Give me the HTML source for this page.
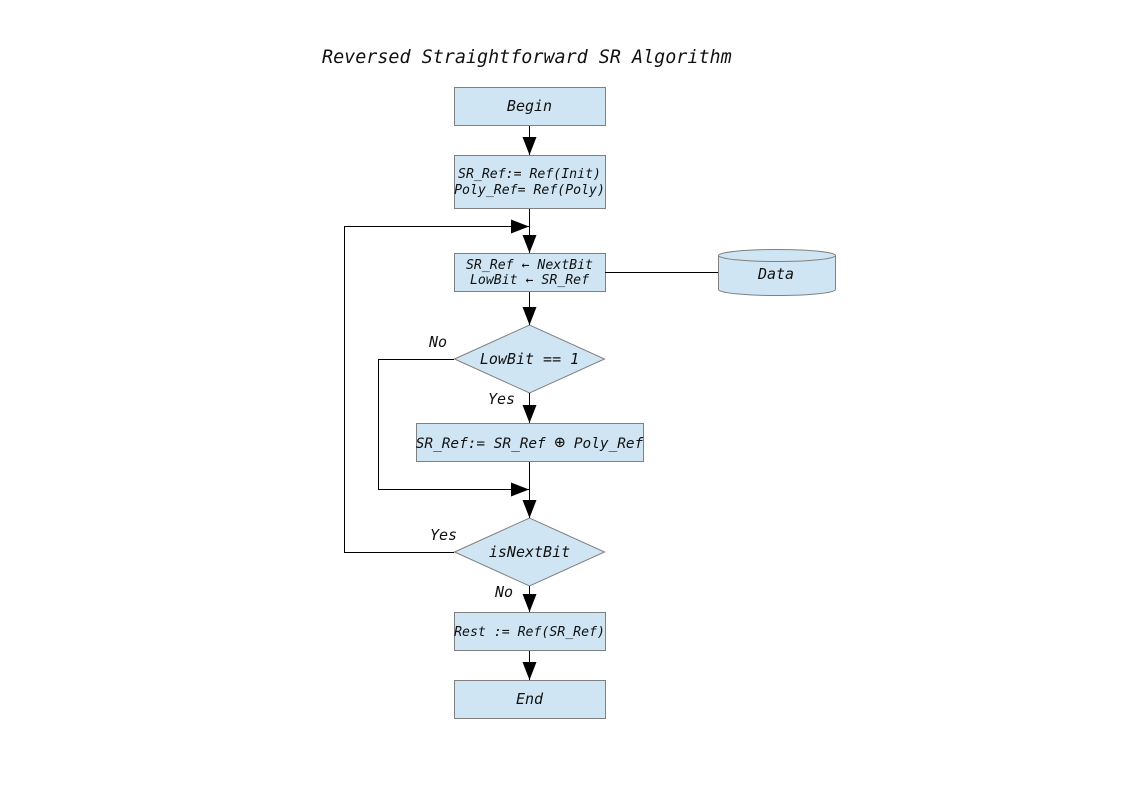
<!DOCTYPE html>
<html><head><style>body{margin:0;background:#fff}svg{display:block}text{font-family:"DejaVu Sans Mono","Liberation Mono",monospace;font-style:italic;fill:#111}</style></head><body>
<svg width="1123" height="794" viewBox="0 0 1123 794" xmlns="http://www.w3.org/2000/svg">
<defs><marker id="a" markerWidth="18" markerHeight="14" refX="18" refY="7" orient="auto" markerUnits="userSpaceOnUse"><path d="M0,0L18,7L0,14z" fill="#000"/></marker></defs>
<text x="322" y="63" font-size="18.4">Reversed Straightforward SR Algorithm</text>
<g fill="#cfe5f3" stroke="#808080" stroke-width="1">
<rect x="454.5" y="87.5" width="151" height="38"/>
<rect x="454.5" y="155.5" width="151" height="53"/>
<rect x="454.5" y="253.5" width="151" height="38"/>
<polygon points="454.5,359 529.5,325 604.5,359 529.5,393"/>
<rect x="416.5" y="423.5" width="227" height="38"/>
<polygon points="454.5,552 529.5,518 604.5,552 529.5,586"/>
<rect x="454.5" y="612.5" width="151" height="38"/>
<rect x="454.5" y="680.5" width="151" height="38"/>
<path d="M718.5,255.5 L718.5,289.5 A58.5,6 0 0 0 835.5,289.5 L835.5,255.5 A58.5,6 0 0 0 718.5,255.5 Z"/>
<path d="M718.5,255.5 A58.5,6 0 0 0 835.5,255.5" fill="none"/>
</g>
<g stroke="#000" stroke-width="1" fill="none">
<line x1="529.5" y1="126" x2="529.5" y2="155" marker-end="url(#a)"/>
<line x1="529.5" y1="209" x2="529.5" y2="253" marker-end="url(#a)"/>
<line x1="529.5" y1="292" x2="529.5" y2="325" marker-end="url(#a)"/>
<line x1="529.5" y1="393" x2="529.5" y2="423" marker-end="url(#a)"/>
<line x1="529.5" y1="462" x2="529.5" y2="518" marker-end="url(#a)"/>
<line x1="529.5" y1="586" x2="529.5" y2="612" marker-end="url(#a)"/>
<line x1="529.5" y1="651" x2="529.5" y2="680" marker-end="url(#a)"/>
<line x1="605" y1="272.5" x2="718" y2="272.5"/>
<polyline points="454,359.5 378.5,359.5 378.5,489.5 529,489.5" marker-end="url(#a)"/>
<polyline points="454,552.5 344.5,552.5 344.5,226.5 529,226.5" marker-end="url(#a)"/>
</g>
<g font-size="15" text-anchor="middle">
<text x="529.5" y="111">Begin</text>
<text x="529.5" y="704">End</text>
<text x="776" y="279">Data</text>
<text x="529.5" y="364">LowBit == 1</text>
<text x="529.5" y="557">isNextBit</text>
<text x="529.5" y="448" font-size="14.4">SR_Ref:= SR_Ref <tspan font-size="18" font-style="normal">⊕</tspan> Poly_Ref</text>
</g>
<g font-size="13.2" text-anchor="middle">
<text x="529.5" y="178">SR_Ref:= Ref(Init)</text>
<text x="529.5" y="194">Poly_Ref= Ref(Poly)</text>
<text x="529.5" y="269">SR_Ref ← NextBit</text>
<text x="529.5" y="284">LowBit ← SR_Ref</text>
<text x="529.5" y="636">Rest := Ref(SR_Ref)</text>
</g>
<g font-size="15">
<text x="429" y="347">No</text>
<text x="488" y="404">Yes</text>
<text x="430" y="540">Yes</text>
<text x="495" y="597">No</text>
</g>
</svg>
</body></html>
